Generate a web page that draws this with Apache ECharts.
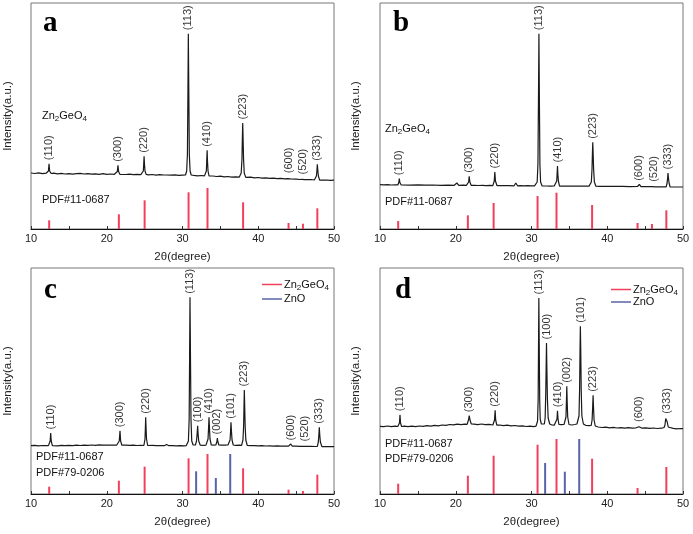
<!DOCTYPE html>
<html>
<head>
<meta charset="utf-8">
<script src="https://cdn.jsdelivr.net/npm/echarts@6/dist/echarts.min.js"></script>
<style>
html,body{margin:0;padding:0;background:#fff;}
#chart{width:693px;height:534px;}
</style>
</head>
<body>
<div id="chart"></div>
<script>
// ---------------- DATA (2θ in degree, intensity in a.u.) ----------------
const panelLetters = ['a', 'b', 'c', 'd'];
const xTicks = [10, 20, 30, 40, 50];

const patternA = [[10,56],[10.5,55.5],[11,56.2],[11.5,55.4],[12,55.8],
[12.15,55.6],[12.3,58],[12.38,65.3],[12.46,58],[12.65,55.5],
[13,55.8],[13.5,55.2],[14,55.6],[14.5,55],[15,55.4],[15.5,54.9],[16,55.3],[16.5,55.6],[17,55],[17.5,55.4],[18,54.8],[18.5,55.2],[19,54.7],[19.5,55.3],[20,54.6],[20.5,55],[21,54.7],
[21.25,54.8],[21.4,57.5],[21.48,63.7],[21.56,57.5],[21.75,54.6],
[22,55],[22.5,54.5],[23,54.9],[23.5,54.3],[24,54.7],[24.5,54.4],
[24.7,54.4],[24.83,58],[24.88,65],[24.93,72.7],[24.98,65],[25.05,58],[25.2,54.6],
[25.5,54.2],[26,54.5],[26.5,53.9],[27,54.3],[27.5,54],[27.7,56],[27.85,54],[28,54.2],[28.5,53.8],[29,54.1],[29.5,53.6],[30,53.9],
[30.4,54],[30.55,58],[30.65,75],[30.72,140],[30.77,195.3],[30.83,140],[30.9,75],[31.0,58],[31.15,54],
[31.5,53.6],[32,53.2],[32.5,53.5],[32.9,53.1],
[33.05,53.5],[33.15,58],[33.2,68],[33.25,78.7],[33.3,68],[33.37,58],[33.5,53.2],
[34,53],[34.5,52.5],[35,52.8],[35.5,52.2],[36,52.5],[36.5,51.8],[37,52.2],[37.5,51.9],
[37.6,52],[37.75,56],[37.85,70],[37.9,90],[37.95,106],[38.0,90],[38.06,70],[38.15,56],[38.35,51.6],
[38.5,51.5],[39,51.8],[39.5,51.2],[40,51.5],[40.5,50.8],[41,51.2],[41.5,50.6],[42,50.9],[42.5,50.3],[43,50.6],[43.5,50.1],
[43.85,50.3],[44.05,52.3],[44.25,50.1],[44.5,50],[45,49.8],[45.5,49.5],[45.8,49.6],[45.95,51],[46.1,49.4],[46.5,49.3],[47,49.5],[47.4,49],
[47.55,49.2],[47.68,53],[47.75,59],[47.8,64.7],[47.86,59],[47.94,53],[48.1,48.9],
[48.5,48.8],[49,49],[49.5,48.6],[50,48.8]];

const patternB = [[10,44.3],[10.5,44.1],[11,44.3],[11.5,44.0],[12,44.2],
[12.35,44.1],[12.48,46.5],[12.55,50.3],[12.62,46.5],[12.8,44],
[13,44.1],[14,43.9],[15,44.1],[16,43.8],[17,44],[18,43.7],[19,43.9],[19.8,43.7],[20.15,46],[20.4,43.7],[21,43.8],[21.4,43.7],
[21.55,43.8],[21.7,47],[21.78,52.7],[21.86,47],[22.05,43.6],
[22.5,43.7],[23,43.5],[23.5,43.7],[24,43.4],[24.5,43.6],[24.9,43.4],
[24.95,43.5],[25.08,48],[25.16,57],[25.24,48],[25.45,43.3],
[26,43.5],[26.5,43.3],[27,43.4],[27.7,43.2],[27.93,46],[28.15,43.2],[28.5,43.3],[29,43.1],[29.5,43.3],[30,43.1],[30.4,43.2],
[30.6,43.3],[30.75,47],[30.85,65],[30.92,130],[30.98,195.3],[31.04,130],[31.11,65],[31.2,47],[31.4,43],
[32,43],[32.5,42.8],[33,43],
[33.22,43],[33.33,48],[33.38,55],[33.43,63],[33.48,55],[33.55,48],[33.7,42.9],
[34,42.9],[35,42.8],[36,43],[37,42.8],[37.6,42.9],
[37.75,42.9],[37.9,47],[37.99,60],[38.04,75],[38.09,86.7],[38.14,75],[38.2,60],[38.3,47],[38.5,42.8],
[39,42.7],[40,42.7],[41,42.6],[42,42.6],[43,42.4],[44,42.5],[44.24,44.7],[44.45,42.4],[45,42.3],[45.9,42.3],[46.13,43.7],[46.35,42.2],[47,42.2],[47.5,42.2],
[47.78,42.2],[47.9,46],[47.97,51],[48.02,56],[48.08,51],[48.16,46],[48.3,42],
[49,42],[50,42]];

const patternC = [[10,48.3],[10.5,48.6],[11,48.2],[11.5,48.5],[12,48.3],[12.3,48.4],
[12.42,48.5],[12.53,53],[12.6,61],[12.67,53],[12.82,48.3],
[13,48.5],[13.5,48.2],[14,48.6],[14.5,48.3],[15,48.7],[15.5,48.4],[16,48.8],[16.5,48.5],[17,48.9],[17.5,48.6],[18,49],[18.5,48.7],[19,49.1],[19.5,48.8],[19.9,49],[20.1,50.7],[20.3,48.9],[20.8,49],[21.3,48.8],
[21.5,48.9],[21.65,53],[21.75,63.3],[21.83,53],[22.0,48.8],
[22.5,48.9],[23,48.6],[23.5,48.8],[24,48.5],[24.5,48.7],[24.9,48.5],
[24.95,48.6],[25.05,55],[25.1,66],[25.14,76.7],[25.19,66],[25.25,55],[25.4,48.5],
[26,48.6],[26.5,48.3],[27,48.5],[27.6,48.3],[27.9,49.5],[28.2,48.3],[28.7,48.4],[29.2,48.2],[29.7,48.3],[30.2,48.2],[30.5,48.4],
[30.65,48.5],[30.78,53],[30.88,75],[30.94,140],[30.99,196.7],[31.05,140],[31.12,75],[31.22,53],[31.4,49],
[31.7,49],[31.85,53],[31.93,60],[32.0,68.3],[32.06,60],[32.14,53],[32.35,48.8],
[32.7,48.7],[33.1,48.9],
[33.25,49],[33.37,55],[33.44,66],[33.5,76.7],[33.56,66],[33.63,55],[33.8,49],
[34.1,48.9],[34.4,49],
[34.47,49.5],[34.55,52.5],[34.6,56],[34.66,52.5],[34.8,49],
[35.1,48.8],[35.6,48.9],[36,49],
[36.15,49.2],[36.28,54],[36.35,63],[36.4,71.7],[36.46,63],[36.54,54],[36.7,49],
[37,48.7],[37.5,48.8],[37.8,48.7],
[37.85,48.8],[37.98,54],[38.07,68],[38.12,88],[38.16,104],[38.21,88],[38.27,68],[38.36,54],[38.55,48.5],
[39,48.3],[39.5,48.4],[40,48.1],[40.5,48.3],[41,48],[41.5,48.2],[42,47.9],[42.5,48.1],[43,47.8],[43.5,48],[44,47.8],
[44.28,50],[44.5,47.8],[45,47.9],[45.5,47.6],[45.95,47.7],[46.17,49],[46.4,47.6],[47,47.7],[47.5,47.5],
[47.8,47.6],[47.93,52],[48.0,59],[48.06,66.7],[48.12,59],[48.2,52],[48.4,47.4],
[49,47.4],[49.5,47.3],[50,47.3]];

const patternD = [[10,67.7],[10.5,67.3],[11,68],[11.5,67.4],[12,67.8],[12.35,67.5],
[12.45,67.6],[12.57,71],[12.64,79.3],[12.71,71],[12.85,67.5],
[13.2,67.8],[13.7,67.3],[14.2,67.9],[14.7,67.4],[15.2,68],[15.7,67.6],[16.2,68.3],[16.7,67.9],[17.2,68.6],[17.7,68.2],[18.2,69],[18.7,68.7],[19.2,69.5],[19.7,69.1],[20.2,69.8],[20.7,69.3],[21.2,69.9],[21.5,69.6],
[21.55,70],[21.68,74],[21.78,78.3],[21.88,74],[22.05,70],
[22.4,69.9],[22.9,69.4],[23.4,70],[23.9,69.3],[24.4,69.6],[24.9,69],
[25.0,69.1],[25.12,74],[25.2,83.7],[25.27,74],[25.42,68.8],
[25.8,69],[26.3,68.4],[26.8,68.8],[27.3,68.1],[27.8,68.5],[28.3,67.9],[28.8,68.2],[29.3,67.5],[29.8,67.8],[30.3,67.4],[30.6,67.8],
[30.7,68.3],[30.8,73],[30.88,95],[30.93,150],[30.97,196],[31.02,150],[31.08,95],[31.15,75],[31.3,70],[31.5,69.5],
[31.7,70],[31.8,76],[31.88,100],[31.94,130],[31.98,151],[32.03,125],[32.1,95],[32.2,76],[32.4,70],
[32.7,69],[33.0,68.8],[33.2,69],
[33.28,69.3],[33.37,75],[33.43,83.3],[33.5,75],[33.62,69.5],
[33.9,69.3],[34.3,69.6],
[34.45,70],[34.55,77],[34.61,92],[34.66,107.7],[34.71,92],[34.78,77],[34.95,69.5],
[35.3,69],[35.7,69.5],[36.0,70],
[36.15,70.5],[36.27,78],[36.35,105],[36.41,145],[36.45,167.7],[36.5,145],[36.56,105],[36.65,78],[36.85,70],
[37.2,68.5],[37.6,68.3],
[37.88,68.5],[38.0,74],[38.08,88],[38.13,98.7],[38.18,88],[38.26,74],[38.42,68],
[38.8,67],[39.3,66.5],[39.8,66.8],[40.3,66.2],[40.8,66.6],[41.3,66],[41.8,66.4],[42.3,65.9],[42.8,66.3],[43.3,65.8],[43.8,66.2],[44.2,67.3],[44.6,65.8],[45.1,66.1],[45.6,65.6],[46.1,66],[46.6,65.5],[47.2,65.8],[47.5,66.5],
[47.62,69],[47.72,75.5],[47.78,74.5],[47.84,76.7],[47.92,72],[48.05,67],[48.3,65.5],
[48.7,65.7],[49.2,65.2],[49.7,65.5],[50,65.3]];

// peak labels: [2θ, peak intensity, hkl]
const peaksA = [[12.38,65.3,'(110)'],[21.48,63.7,'(300)'],[24.93,72.7,'(220)'],[30.77,195.3,'(113)'],[33.25,78.7,'(410)'],[37.95,106,'(223)'],[44.05,52.3,'(600)'],[45.95,51,'(520)'],[47.8,64.7,'(333)']];
const peaksB = [[12.55,50.3,'(110)'],[21.78,52.7,'(300)'],[25.16,57,'(220)'],[30.98,195.3,'(113)'],[33.43,63,'(410)'],[38.09,86.7,'(223)'],[44.24,44.7,'(600)'],[46.13,43.7,'(520)'],[48.02,56,'(333)']];
const peaksC = [[12.6,61,'(110)'],[21.75,63.3,'(300)'],[25.14,76.7,'(220)'],[30.99,196.7,'(113)'],[32.0,68.3,'(100)'],[33.5,76.7,'(410)'],[34.6,56,'(002)'],[36.4,71.7,'(101)'],[38.16,104,'(223)'],[44.28,50,'(600)'],[46.17,49,'(520)'],[48.06,66.7,'(333)']];
const peaksD = [[12.64,79.3,'(110)'],[21.78,78.3,'(300)'],[25.2,83.7,'(220)'],[30.97,196,'(113)'],[31.98,151,'(100)'],[33.43,83.3,'(410)'],[34.66,107.7,'(002)'],[36.5,167.7,'(101)'],[38.13,98.7,'(223)'],[44.2,68.5,'(600)'],[47.84,76.7,'(333)']];

// reference sticks: PDF#11-0687 (Zn2GeO4) and PDF#79-0206 (ZnO)
const zgoA = [[12.4,8.7],[21.6,14.7],[25.0,28.7],[30.8,36.7],[33.3,41],[38.0,26.7],[44.0,6],[45.9,5.3],[47.8,20.7]];
const zgoB = [[12.4,8],[21.6,13.7],[25.0,26],[30.8,33],[33.3,36.3],[38.0,24],[44.0,6],[45.9,5],[47.8,18.7]];
const zgoC = [[12.4,7.3],[21.6,13.3],[25.0,27.3],[30.8,35.7],[33.3,40],[38.0,25.7],[44.0,4.3],[45.9,3],[47.8,19.3]];
const zgoD = [[12.4,10.3],[21.6,18.3],[25.0,38.3],[30.8,49.3],[33.3,55],[38.0,35.3],[44.0,6],[47.8,27]];
const znoC = [[31.8,22.7],[34.4,16],[36.3,40]];
const znoD = [[31.8,31],[34.4,22.3],[36.3,55]];

const yMax = 226;

// ---------------- CHART ----------------
const SANS = '"Liberation Sans", Arial, Helvetica, sans-serif';
const SERIF = '"Liberation Serif", "Times New Roman", serif';
const RED = '#f2405c';
const BLUE = '#5a63a8';
const LINE = '#1a1a1a';

const grids = [
  {left: 31, top: 3, width: 303, height: 226},
  {left: 380, top: 3, width: 303, height: 226},
  {left: 31, top: 268, width: 303, height: 226},
  {left: 380, top: 268, width: 303, height: 226}
].map(g => Object.assign({show: true, borderColor: '#777', borderWidth: 1, backgroundColor: 'transparent'}, g));

const xAxes = grids.map((g, i) => ({
  type: 'value', gridIndex: i, min: xTicks[0], max: xTicks[xTicks.length - 1], interval: xTicks[1] - xTicks[0],
  axisLine: {show: true, lineStyle: {color: '#111', width: 1}},
  axisTick: {show: true, inside: true, length: 3, lineStyle: {color: '#333'}},
  minorTick: {show: true, splitNumber: 2, length: 3, lineStyle: {color: '#333'}},
  splitLine: {show: false},
  axisLabel: {fontFamily: SANS, fontSize: 11, color: '#222', margin: 4},
  name: '2θ(degree)', nameLocation: 'middle', nameGap: 22,
  nameTextStyle: {fontFamily: SANS, fontSize: 11.5, color: '#222'}
}));

const yAxes = grids.map((g, i) => ({
  type: 'value', gridIndex: i, min: 0, max: yMax,
  axisLine: {show: false}, axisTick: {show: false}, axisLabel: {show: false}, splitLine: {show: false},
  name: 'Intensity(a.u.)', nameLocation: 'middle', nameGap: i % 2 === 0 ? 17 : 18,
  nameTextStyle: {fontFamily: SANS, fontSize: 11.5, color: '#222'}
}));

const patterns = [patternA, patternB, patternC, patternD];
const peaks = [peaksA, peaksB, peaksC, peaksD];
const zgo = [zgoA, zgoB, zgoC, zgoD];
const zno = [null, null, znoC, znoD];

const series = [];
patterns.forEach((p, i) => {
  series.push({
    type: 'line', name: 'pattern ' + panelLetters[i], xAxisIndex: i, yAxisIndex: i,
    data: p, showSymbol: false, symbol: 'none', smooth: false, silent: true,
    lineStyle: {color: LINE, width: 1.2}, z: 3
  });
  series.push({
    type: 'bar', name: (i >= 2 ? 'Zn2GeO4' : 'PDF#11-0687 ' + panelLetters[i]), xAxisIndex: i, yAxisIndex: i,
    data: zgo[i], barWidth: 2, barGap: '-100%', itemStyle: {color: RED}, silent: true, z: 2
  });
  if (zno[i]) {
    series.push({
      type: 'bar', name: 'ZnO', xAxisIndex: i, yAxisIndex: i,
      data: zno[i], barWidth: 2, barGap: '-100%', itemStyle: {color: BLUE}, silent: true, z: 2
    });
  }
  series.push({
    type: 'scatter', name: 'hkl ' + panelLetters[i], xAxisIndex: i, yAxisIndex: i,
    data: peaks[i], symbolSize: 1, itemStyle: {color: 'rgba(0,0,0,0)'}, silent: true, z: 5,
    label: {
      show: true, position: 'top', distance: 3, rotate: 90, align: 'left', verticalAlign: 'middle',
      fontFamily: SANS, fontSize: 11, color: '#000',
      formatter: prm => prm.value[2]
    }
  });
});

const subRich = {
  a: {fontFamily: SANS, fontSize: 11, color: '#111', lineHeight: 14},
  s: {fontFamily: SANS, fontSize: 8, color: '#111', lineHeight: 8, verticalAlign: 'bottom'}
};
const legendFmt = name => name === 'Zn2GeO4' ? '{a|Zn}{s|2}{a|GeO}{s|4}' : '{a|' + name + '}';
const legendBase = {
  orient: 'vertical', icon: 'rect', itemWidth: 20, itemHeight: 1.5, padding: 0,
  data: ['Zn2GeO4', 'ZnO'], formatter: legendFmt, selectedMode: false,
  textStyle: {fontFamily: SANS, fontSize: 11, color: '#111', rich: subRich, padding: [0, 0, 0, -3]}
};
const legends = [
  Object.assign({}, legendBase, {left: 262, top: 279, itemGap: 2}),
  Object.assign({}, legendBase, {left: 611, top: 284, itemGap: 0})
];

function txt(x, y, text, extra) {
  return {type: 'text', x: x, y: y, silent: true, z: 10,
    style: Object.assign({text: text, fill: '#111', font: '11px ' + SANS, verticalAlign: 'middle', align: 'left'}, extra || {})};
}
const letterStyle = {font: 'bold 29px ' + SERIF, fill: '#000'};
const richZGO = {text: '{a|Zn}{s|2}{a|GeO}{s|4}', rich: subRich};

const graphics = [
  txt(43, 24, panelLetters[0], letterStyle),
  txt(393, 24, panelLetters[1], letterStyle),
  txt(44, 291, panelLetters[2], letterStyle),
  txt(395, 291, panelLetters[3], letterStyle),
  txt(42, 116, '', richZGO),
  txt(385, 129, '', richZGO),
  txt(42, 200, 'PDF#11-0687'),
  txt(385, 202, 'PDF#11-0687'),
  txt(36, 457, 'PDF#11-0687'),
  txt(36, 473, 'PDF#79-0206'),
  txt(385, 444, 'PDF#11-0687'),
  txt(385, 459, 'PDF#79-0206')
];

const chart = echarts.init(document.getElementById('chart'), null, {renderer: 'canvas'});
chart.setOption({
  animation: false,
  backgroundColor: '#fff',
  grid: grids,
  xAxis: xAxes,
  yAxis: yAxes,
  legend: legends,
  series: series,
  graphic: graphics
});
</script>
</body>
</html>
